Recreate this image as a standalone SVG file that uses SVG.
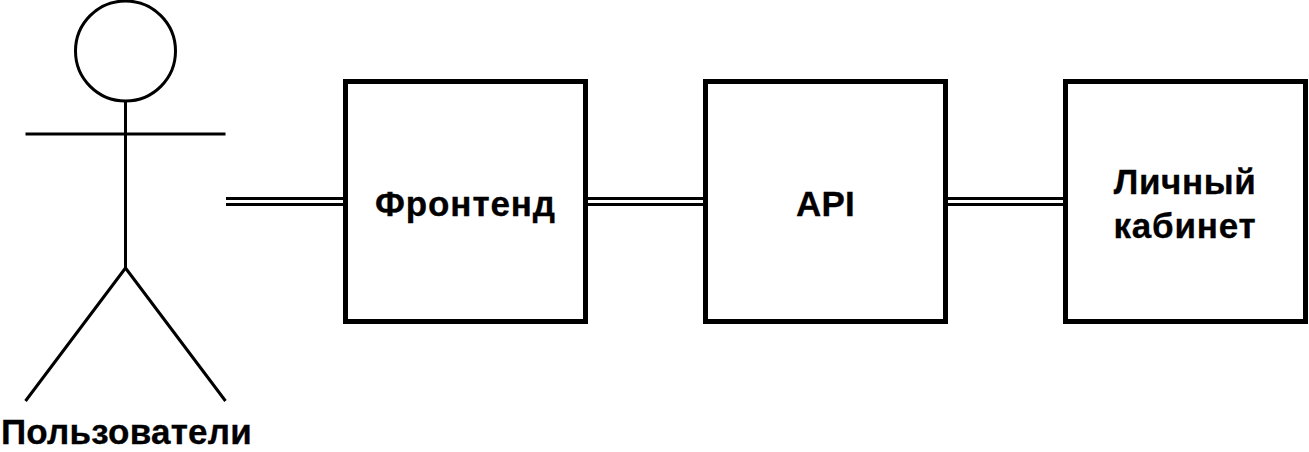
<svg xmlns="http://www.w3.org/2000/svg" width="1309" height="452" viewBox="0 0 1309 452">
<style>
.b{fill:#fff;stroke:#000;stroke-width:5}
.l{fill:none;stroke:#000;stroke-width:3}
.t{font-family:"Liberation Sans",Arial,sans-serif;font-weight:bold;font-size:35px;text-anchor:middle;fill:#000;stroke:#000;stroke-width:.3}
</style>
<rect width="1309" height="452" fill="#fff"/>
<g id="connectors">
<path class="l" d="M226 198.500H345M226 204.500H345M586 198.500H705M586 204.500H705M946 198.500H1065M946 204.500H1065"/>
</g>
<g id="user">
<circle class="l" cx="125.500" cy="51" r="50"/>
<path class="l" d="M125.500 101V268M25.500 134H225.500M125.500 268L25.500 401M125.500 268L225.500 401"/>
<text class="t" x="126.500" y="444" letter-spacing=".25">Пользователи</text>
</g>
<g id="frontend"><rect class="b" x="345.500" y="81.500" width="240" height="240"/><text class="t" x="465.500" y="216" letter-spacing=".9">Фронтенд</text></g>
<g id="api"><rect class="b" x="705.500" y="81.500" width="240" height="240"/><text class="t" x="825.500" y="216" letter-spacing=".3">API</text></g>
<g id="cabinet"><rect class="b" x="1065.500" y="81.500" width="240" height="240"/><text class="t" x="1185" y="194" letter-spacing=".6">Личный</text><text class="t" x="1185" y="238" letter-spacing=".8">кабинет</text></g>
</svg>
